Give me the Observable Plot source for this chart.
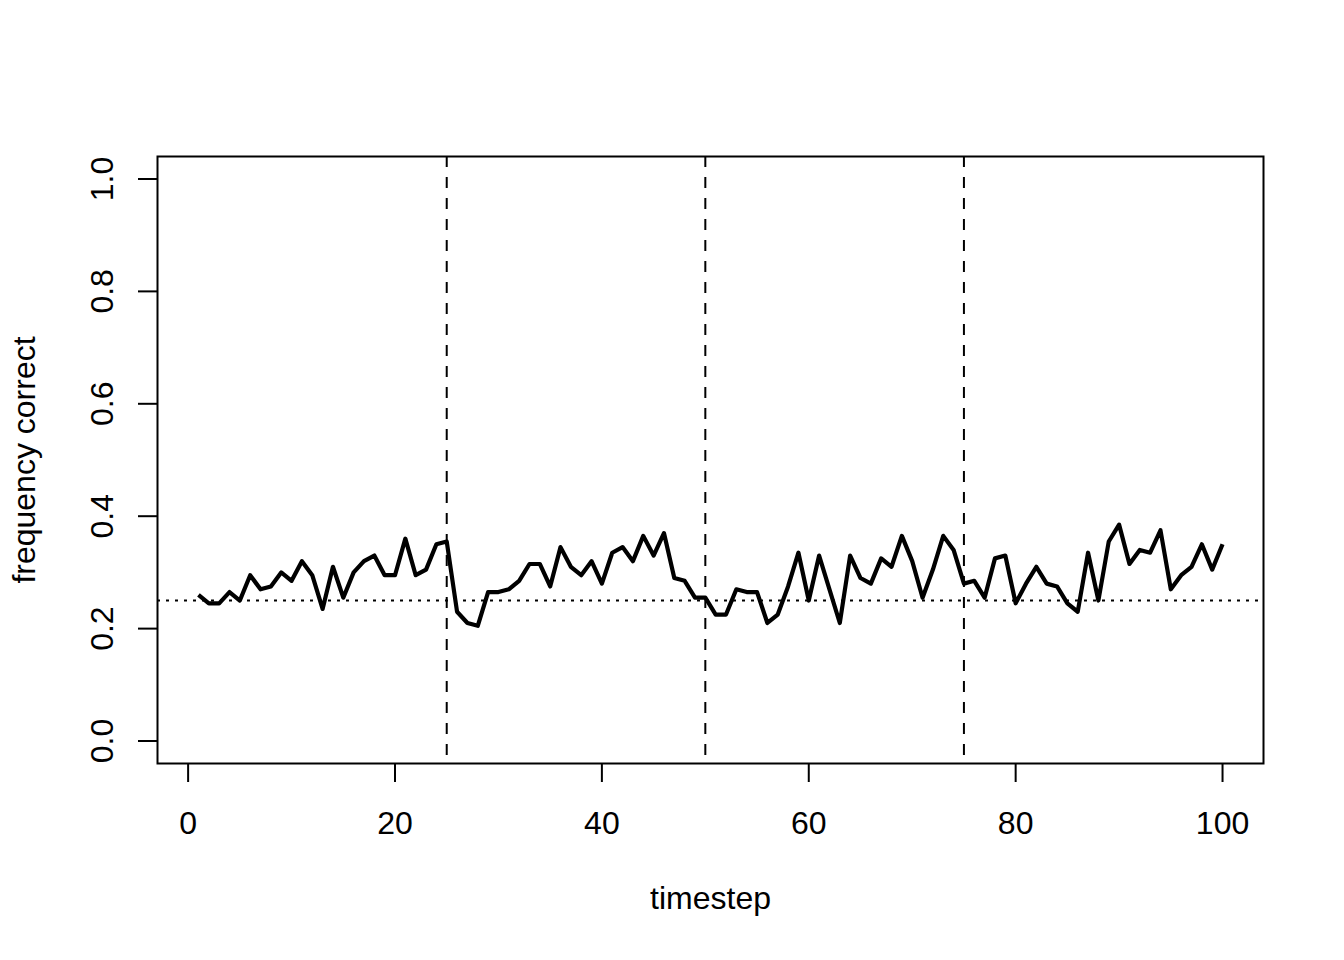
<!DOCTYPE html>
<html>
<head>
<meta charset="utf-8">
<script src="https://cdn.jsdelivr.net/npm/d3@7"></script>
<script src="https://cdn.jsdelivr.net/npm/@observablehq/plot@0.6"></script>
<style>
  html, body { margin: 0; padding: 0; background: #fff; }
  svg { display: block; }
</style>
</head>
<body>
<div id="chart"></div>
<script>
const timesteps = d3.range(1, 101);
const freqCorrect = [
  0.26, 0.245, 0.245, 0.265, 0.25, 0.295, 0.27, 0.275, 0.30, 0.285,
  0.32, 0.295, 0.235, 0.31, 0.255, 0.30, 0.32, 0.33, 0.295, 0.295,
  0.36, 0.295, 0.305, 0.35, 0.355, 0.23, 0.21, 0.205, 0.265, 0.265,
  0.27, 0.285, 0.315, 0.315, 0.275, 0.345, 0.31, 0.295, 0.32, 0.28,
  0.335, 0.345, 0.32, 0.365, 0.33, 0.37, 0.29, 0.285, 0.255, 0.255,
  0.225, 0.225, 0.27, 0.265, 0.265, 0.21, 0.225, 0.275, 0.335, 0.25,
  0.33, 0.27, 0.21, 0.33, 0.29, 0.28, 0.325, 0.31, 0.365, 0.32,
  0.255, 0.305, 0.365, 0.34, 0.28, 0.285, 0.255, 0.325, 0.33, 0.245,
  0.28, 0.31, 0.28, 0.275, 0.245, 0.23, 0.335, 0.25, 0.355, 0.385,
  0.315, 0.34, 0.335, 0.375, 0.27, 0.295, 0.31, 0.35, 0.305, 0.35
];
const phaseBreaks = [25, 50, 75];
const chanceLevel = [0.25];
const xTicks = [0, 20, 40, 60, 80, 100];
const yTicks = [0, 0.2, 0.4, 0.6, 0.8, 1.0];
const xLabel = "timestep";
const yLabel = "frequency correct";

const data = timesteps.map((t, i) => ({t, v: freqCorrect[i]}));
const font = "'Liberation Sans', Arial, Helvetica, sans-serif";

const chart = Plot.plot({
  width: 1344,
  height: 960,
  marginLeft: 157,
  marginRight: 81,
  marginTop: 156,
  marginBottom: 197,
  style: {fontFamily: font, fontSize: "32px", color: "#000", background: "#fff"},
  x: {domain: [1 - 0.04 * 99, 100 + 0.04 * 99]},
  y: {domain: [-0.04, 1.04]},
  marks: [
    Plot.ruleX(phaseBreaks, {stroke: "#000", strokeWidth: 2, strokeDasharray: "11,10"}),
    Plot.ruleY(chanceLevel, {stroke: "#000", strokeWidth: 2, strokeDasharray: "3,6"}),
    Plot.line(data, {x: "t", y: "v", stroke: "#000", strokeWidth: 4.2, strokeLinejoin: "round", strokeLinecap: "butt"}),
    Plot.frame({stroke: "#000", strokeWidth: 2}),
    Plot.axisX(xTicks, {tickSize: 19, tickPadding: 29, strokeWidth: 2, fontSize: 32, fill: "#000", label: null}),
    Plot.axisY(yTicks, {tickSize: 19, strokeWidth: 2, text: null, label: null}),
    Plot.text(yTicks, {y: d => d, text: d => d.toFixed(1), frameAnchor: "left", dx: -55, rotate: -90,
      textAnchor: "middle", lineAnchor: "middle", fontSize: 32, fill: "#000"}),
    Plot.text([xLabel], {text: d => d, frameAnchor: "bottom", dy: 135, textAnchor: "middle", lineAnchor: "middle", fontSize: 32, fill: "#000"}),
    Plot.text([yLabel], {text: d => d, frameAnchor: "left", dx: -133, rotate: -90, textAnchor: "middle", lineAnchor: "middle", fontSize: 32, fill: "#000"})
  ]
});
document.getElementById("chart").appendChild(chart);
</script>
</body>
</html>
